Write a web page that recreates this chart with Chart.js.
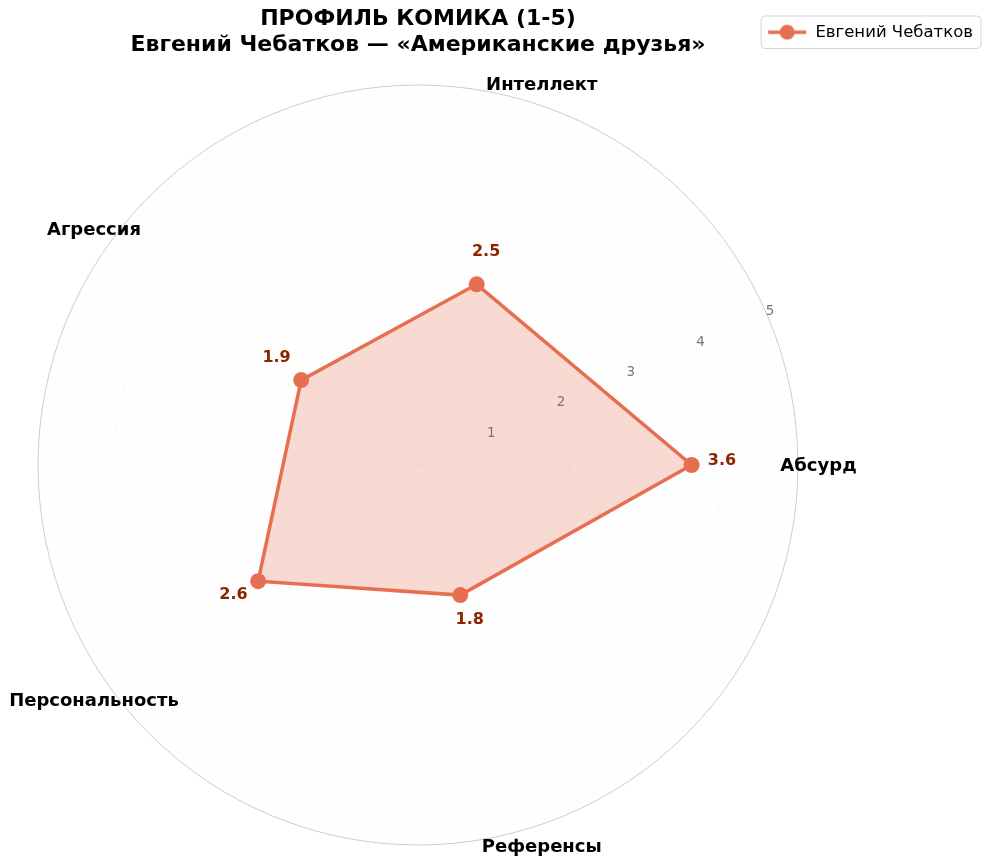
<!DOCTYPE html>
<html>
<head>
<meta charset="utf-8">
<script src="https://cdn.jsdelivr.net/npm/chart.js@4.4.0/dist/chart.umd.min.js"></script>
<style>
    html, body { margin: 0; padding: 0; background: #ffffff; }
    #wrap { width: 990px; height: 865px; }
</style>
</head>
<body>
<div id="wrap"><canvas id="radar"></canvas></div>
<script>
// categories go clockwise from the right (matplotlib draws them counter-clockwise)
const categories = ['Абсурд', 'Референсы', 'Персональность', 'Агрессия', 'Интеллект'];
const scores = [3.6, 1.8, 2.6, 1.9, 2.5];
const rTicks = [1, 2, 3, 4, 5];
const seriesName = 'Евгений Чебатков';
const titleLines = ['ПРОФИЛЬ КОМИКА (1-5)', 'Евгений Чебатков — «Американские друзья»'];

const lineColor = '#E76F51';
const fillColor = 'rgba(231, 111, 81, 0.25)';
const valueColor = '#8B2500';
const FONT = '"DejaVu Sans", sans-serif';

// polar area placement
const CX = 418, CY = 465, RADIUS = 380;

const legendIcon = (() => {
    let c = document.createElement('canvas');
    c.width = 40;
    c.height = 18;
    let g = c.getContext('2d');
    g.strokeStyle = lineColor;
    g.lineWidth = 3.5;
    g.beginPath();
    g.moveTo(1, 9);
    g.lineTo(39, 9);
    g.stroke();
    g.fillStyle = lineColor;
    g.beginPath();
    g.arc(20, 9, 7.5, 0, Math.PI * 2);
    g.fill();
    return c;
})();

const decorPlugin = {
    id: 'decor',
    beforeDraw: (chart) => {
        let s = chart.scales.r;
        let ctx = chart.ctx;
        ctx.save();
        ctx.fillStyle = '#fefefe';
        ctx.beginPath();
        ctx.arc(s.xCenter, s.yCenter, s.drawingArea, 0, Math.PI * 2);
        ctx.fill();
        ctx.restore();
    },
    afterDatasetsDraw: (chart) => {
        let s = chart.scales.r;
        let ctx = chart.ctx;
        ctx.save();

        // outer ring
        ctx.strokeStyle = '#cccccc';
        ctx.lineWidth = 1;
        ctx.beginPath();
        ctx.arc(s.xCenter, s.yCenter, s.drawingArea, 0, Math.PI * 2);
        ctx.stroke();

        // radial tick labels at ~23 degrees
        ctx.font = '13.5px ' + FONT;
        ctx.fillStyle = '#777777';
        ctx.textAlign = 'center';
        ctx.textBaseline = 'middle';
        let a = 23.5 * Math.PI / 180;
        for (const t of rTicks) {
            let d = s.getDistanceFromCenterForValue(t) + 4;
            ctx.fillText(String(t), s.xCenter + d * Math.cos(a), s.yCenter - d * Math.sin(a));
        }

        // category labels
        ctx.font = 'bold 18px ' + FONT;
        ctx.fillStyle = '#000000';
        for (let i = 0; i < categories.length; i++) {
            let p = s.getPointPositionForValue(i, 5.27);
            ctx.fillText(categories[i], p.x, p.y + 1);
        }

        // value labels
        ctx.font = 'bold 16px ' + FONT;
        ctx.fillStyle = valueColor;
        for (let i = 0; i < scores.length; i++) {
            let p = s.getPointPositionForValue(i, scores[i] + 0.4);
            ctx.fillText(scores[i].toFixed(1), p.x, p.y - 4);
        }

        // title
        ctx.font = 'bold 22px ' + FONT;
        ctx.fillStyle = '#000000';
        ctx.fillText(titleLines[0], s.xCenter, 19);
        ctx.fillText(titleLines[1], s.xCenter, 45);

        // legend frame
        let lg = chart.legend;
        if (lg && lg.legendHitBoxes && lg.legendHitBoxes.length) {
            let hb = lg.legendHitBoxes[0];
            ctx.strokeStyle = '#d5d5d5';
            ctx.lineWidth = 1;
            ctx.beginPath();
            ctx.roundRect(hb.left - 6, hb.top - 8, hb.width + 14, hb.height + 16, 4);
            ctx.stroke();
        }
        ctx.restore();
    },
};

let chart = new Chart(document.getElementById('radar').getContext('2d'), {
    type: 'radar',
    data: {
        labels: categories,
        datasets: [
            {
                label: seriesName,
                data: scores,
                borderColor: lineColor,
                backgroundColor: fillColor,
                borderWidth: 3.5,
                pointRadius: 8,
                pointHoverRadius: 8,
                pointBackgroundColor: lineColor,
                pointBorderColor: lineColor,
                pointBorderWidth: 0,
                fill: true,
            },
        ],
    },
    options: {
        responsive: true,
        maintainAspectRatio: false,
        animation: false,
        devicePixelRatio: 1,
        layout: { padding: { top: 14, right: 7 } },
        plugins: {
            title: { display: false },
            tooltip: { enabled: false },
            legend: {
                position: 'top',
                align: 'end',
                labels: {
                    usePointStyle: true,
                    pointStyleWidth: 40,
                    color: '#000000',
                    font: { family: FONT, size: 16.5 },
                    generateLabels: (ch) => [
                        {
                            text: seriesName,
                            pointStyle: legendIcon,
                            fillStyle: lineColor,
                            strokeStyle: lineColor,
                            lineWidth: 0,
                            datasetIndex: 0,
                            hidden: false,
                        },
                    ],
                },
            },
        },
        scales: {
            r: {
                min: 0,
                max: 5,
                startAngle: 90,
                ticks: { display: false, stepSize: 1 },
                pointLabels: { display: false },
                grid: {
                    circular: true,
                    color: (c) => (c.tick && c.tick.value >= 5 ? 'rgba(0,0,0,0)' : 'rgba(0,0,0,0.035)'),
                    lineWidth: 1,
                },
                border: { dash: [5, 5] },
                angleLines: { color: 'rgba(0,0,0,0.035)', borderDash: [5, 5] },
                afterFit: (scale) => {
                    scale.xCenter = CX;
                    scale.yCenter = CY;
                    scale.drawingArea = RADIUS;
                },
            },
        },
    },
    plugins: [decorPlugin],
});
</script>
</body>
</html>
